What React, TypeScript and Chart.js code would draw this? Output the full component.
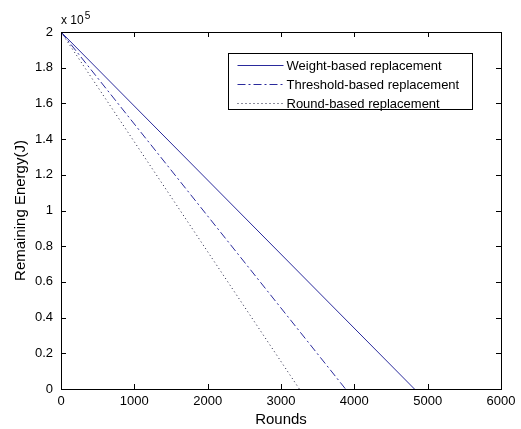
import React, { useEffect, useRef } from "react";
import { Chart, registerables } from "chart.js";

Chart.register(...registerables);

// ---- data ----
const seriesNames = ["Weight-based replacement", "Threshold-based replacement", "Round-based replacement"];
const weightRounds = [0, 4820];
const weightEnergy = [200000, 0];
const thresholdRounds = [0, 3880];
const thresholdEnergy = [200000, 0];
const roundRounds = [0, 3250];
const roundEnergy = [200000, 0];
const xTickMax = 6000;
const yTickMax = 200000;

const FONT = "'Liberation Sans', Arial, Helvetica, sans-serif";
const BLUE = "#2a2a9c";
const DOT = "#1a1a3a";

const toPoints = (xs: number[], ys: number[]) => xs.map((x, i) => ({ x, y: ys[i] }));

const dashes: number[][] = [[], [8, 3, 2, 3], [1, 3]];
const colors = [BLUE, BLUE, DOT];

const boxPlugin = {
  id: "matlabBox",
  afterDatasetsDraw(chart: any) {
    const { ctx, chartArea } = chart;
    const { left, right, top, bottom } = chartArea;
    const xs = chart.scales.x;
    const ys = chart.scales.y;
    ctx.save();
    ctx.strokeStyle = "#000";
    ctx.lineWidth = 1;
    ctx.setLineDash([]);
    ctx.strokeRect(Math.round(left) + 0.5, Math.round(top) + 0.5, Math.round(right - left), Math.round(bottom - top));
    const tl = 5;
    ctx.beginPath();
    xs.ticks.forEach((t: any) => {
      const px = Math.round(xs.getPixelForValue(t.value)) + 0.5;
      ctx.moveTo(px, bottom);
      ctx.lineTo(px, bottom - tl);
      ctx.moveTo(px, top);
      ctx.lineTo(px, top + tl);
    });
    ys.ticks.forEach((t: any) => {
      const py = Math.round(ys.getPixelForValue(t.value)) + 0.5;
      ctx.moveTo(left, py);
      ctx.lineTo(left + tl, py);
      ctx.moveTo(right, py);
      ctx.lineTo(right - tl, py);
    });
    ctx.stroke();

    // exponent label
    ctx.fillStyle = "#000";
    ctx.font = `12px ${FONT}`;
    ctx.textBaseline = "alphabetic";
    ctx.textAlign = "left";
    ctx.fillText("x 10", left, top - 8);
    const w = ctx.measureText("x 10").width;
    ctx.font = `10px ${FONT}`;
    ctx.fillText("5", left + w + 1, top - 13);

    // legend
    const bw = 244;
    const bh = 56;
    const bx = Math.round(right - 29 - bw) + 0.5;
    const by = Math.round(top + 21) + 0.5;
    ctx.fillStyle = "#fff";
    ctx.fillRect(bx, by, bw, bh);
    ctx.strokeStyle = "#000";
    ctx.strokeRect(bx, by, bw, bh);
    ctx.font = `13px ${FONT}`;
    ctx.textBaseline = "middle";
    seriesNames.forEach((name, i) => {
      const yy = Math.round(by + 11 + i * 19) + 0.5;
      ctx.strokeStyle = colors[i];
      ctx.setLineDash(dashes[i]);
      ctx.beginPath();
      ctx.moveTo(bx + 9, yy);
      ctx.lineTo(bx + 55, yy);
      ctx.stroke();
      ctx.setLineDash([]);
      ctx.fillStyle = "#000";
      ctx.fillText(name, bx + 58, yy + 1);
    });
    ctx.restore();
  },
};

export default function App() {
  const ref = useRef<HTMLCanvasElement>(null);
  useEffect(() => {
    document.body.style.margin = "0";
    const canvas = ref.current!;
    const chart = new Chart(canvas, {
      type: "line",
      data: {
        datasets: [
          { label: seriesNames[0], data: toPoints(weightRounds, weightEnergy) },
          { label: seriesNames[1], data: toPoints(thresholdRounds, thresholdEnergy) },
          { label: seriesNames[2], data: toPoints(roundRounds, roundEnergy) },
        ].map((d, i) => ({
          ...d,
          borderColor: colors[i],
          borderWidth: 1,
          borderDash: dashes[i],
          pointRadius: 0,
          fill: false,
          tension: 0,
        })),
      },
      options: {
        responsive: false,
        animation: false,
        devicePixelRatio: 1,
        layout: { padding: { top: 32, right: 20, left: 12, bottom: 0 } },
        plugins: { legend: { display: false }, tooltip: { enabled: false } },
        scales: {
          x: {
            type: "linear",
            min: 0,
            max: xTickMax,
            grid: { display: false, drawTicks: false },
            border: { display: false },
            ticks: {
              stepSize: 1000,
              color: "#000",
              font: { family: FONT, size: 13 },
              padding: 5,
              maxRotation: 0,
              callback: (v: any) => String(v),
            },
            title: { display: true, text: "Rounds", color: "#000", font: { family: FONT, size: 15 }, padding: { top: 0, bottom: 0 } },
            afterFit(scale: any) {
              scale.height = 40;
            },
          },
          y: {
            min: 0,
            max: yTickMax,
            grid: { display: false, drawTicks: false },
            border: { display: false },
            ticks: {
              stepSize: 20000,
              color: "#000",
              font: { family: FONT, size: 13 },
              padding: 8,
              callback: (v: any) => String(Math.round(Number(v) / 10000) / 10),
            },
            title: { display: true, text: "Remaining Energy(J)", color: "#000", font: { family: FONT, size: 15 }, padding: { top: 0, bottom: 0 } },
            afterFit(scale: any) {
              scale.width = 49;
            },
          },
        },
      },
      plugins: [boxPlugin],
    } as any);
    return () => chart.destroy();
  }, []);
  return (
    <div style={{ width: 521, height: 429, background: "#fff" }}>
      <canvas ref={ref} width={521} height={429} style={{ display: "block" }} />
    </div>
  );
}
